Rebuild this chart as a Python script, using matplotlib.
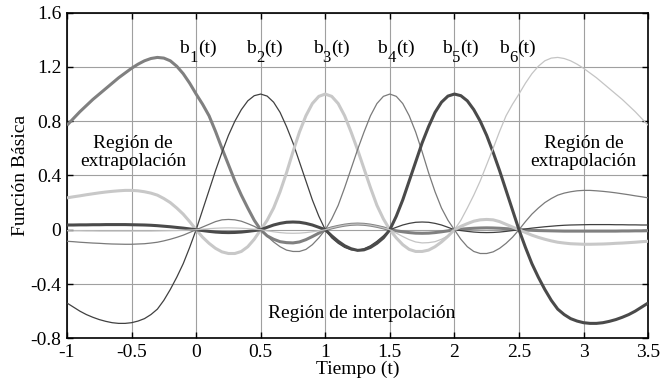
import numpy as np
import matplotlib
matplotlib.use("Agg")
import matplotlib.pyplot as plt

plt.rcParams['font.family'] = ['Liberation Serif', 'DejaVu Serif']
plt.rcParams['axes.unicode_minus'] = False

# tiempo muestreado cada 0.05 entre -1 y 3.5
t = np.linspace(-1.0, 3.5, 91)

b1 = [0.77, 0.82, 0.87, 0.915, 0.96, 1.00, 1.04, 1.08, 1.12, 1.155,
      1.19, 1.22, 1.245, 1.262, 1.27, 1.265, 1.245, 1.205, 1.15, 1.08,
      1.00, 0.925, 0.84, 0.725, 0.60, 0.48, 0.36, 0.255, 0.16, 0.07,
      0.00, -0.045, -0.07, -0.088, -0.095, -0.097, -0.09, -0.073, -0.05, -0.025,
      0.00, 0.014, 0.025, 0.034, 0.04, 0.042, 0.04, 0.034, 0.025, 0.014,
      0.00, -0.008, -0.015, -0.021, -0.025, -0.026, -0.025, -0.021, -0.015, -0.008,
      0.00, 0.004, 0.008, 0.011, 0.013, 0.014, 0.013, 0.011, 0.008, 0.004,
      0.00, -0.002, -0.004, -0.006, -0.007, -0.008, -0.009, -0.01, -0.01, -0.01,
      -0.01, -0.01, -0.01, -0.01, -0.01, -0.01, -0.009, -0.009, -0.008, -0.008,
      -0.007]
b2 = [-0.54, -0.57, -0.60, -0.625, -0.645, -0.662, -0.675, -0.685, -0.69, -0.69,
      -0.685, -0.673, -0.655, -0.625, -0.585, -0.52, -0.44, -0.35, -0.25, -0.13,
      0.00, 0.145, 0.29, 0.435, 0.57, 0.695, 0.80, 0.885, 0.95, 0.988,
      1.00, 0.985, 0.94, 0.865, 0.76, 0.64, 0.50, 0.36, 0.22, 0.10,
      0.00, -0.06, -0.10, -0.13, -0.148, -0.152, -0.14, -0.118, -0.085, -0.045,
      0.00, 0.018, 0.035, 0.047, 0.055, 0.057, 0.055, 0.047, 0.035, 0.018,
      0.00, -0.006, -0.012, -0.017, -0.02, -0.021, -0.02, -0.017, -0.012, -0.006,
      0.00, 0.006, 0.012, 0.017, 0.022, 0.026, 0.03, 0.033, 0.035, 0.036,
      0.037, 0.038, 0.038, 0.038, 0.038, 0.037, 0.037, 0.036, 0.036, 0.035,
      0.035]
b3 = [0.235, 0.243, 0.25, 0.258, 0.265, 0.272, 0.278, 0.283, 0.287, 0.29,
      0.29, 0.287, 0.28, 0.27, 0.255, 0.23, 0.20, 0.16, 0.115, 0.06,
      0.00, -0.055, -0.10, -0.137, -0.163, -0.175, -0.175, -0.16, -0.125, -0.07,
      0.00, 0.07, 0.16, 0.28, 0.42, 0.575, 0.72, 0.84, 0.93, 0.983,
      1.00, 0.983, 0.93, 0.84, 0.72, 0.59, 0.45, 0.31, 0.18, 0.08,
      0.00, -0.06, -0.11, -0.145, -0.16, -0.16, -0.15, -0.125, -0.09, -0.048,
      0.00, 0.025, 0.045, 0.063, 0.073, 0.076, 0.073, 0.06, 0.04, 0.02,
      0.00, -0.02, -0.04, -0.056, -0.07, -0.082, -0.092, -0.098, -0.103, -0.105,
      -0.107, -0.107, -0.106, -0.105, -0.103, -0.10, -0.098, -0.095, -0.092, -0.088,
      -0.085]
b4 = [-0.085, -0.088, -0.092, -0.095, -0.098, -0.10, -0.103, -0.105, -0.106, -0.107,
      -0.107, -0.105, -0.103, -0.098, -0.092, -0.082, -0.07, -0.056, -0.04, -0.02,
      0.00, 0.02, 0.04, 0.06, 0.073, 0.076, 0.073, 0.063, 0.045, 0.025,
      0.00, -0.048, -0.09, -0.125, -0.15, -0.16, -0.16, -0.145, -0.11, -0.06,
      0.00, 0.08, 0.18, 0.31, 0.45, 0.59, 0.72, 0.84, 0.93, 0.983,
      1.00, 0.983, 0.93, 0.84, 0.72, 0.575, 0.42, 0.28, 0.16, 0.07,
      0.00, -0.07, -0.125, -0.16, -0.175, -0.175, -0.163, -0.137, -0.10, -0.055,
      0.00, 0.06, 0.115, 0.16, 0.20, 0.23, 0.255, 0.27, 0.28, 0.287,
      0.29, 0.29, 0.287, 0.283, 0.278, 0.272, 0.265, 0.258, 0.25, 0.243,
      0.235]
b5 = [0.035, 0.035, 0.036, 0.036, 0.037, 0.037, 0.038, 0.038, 0.038, 0.038,
      0.037, 0.036, 0.035, 0.033, 0.03, 0.026, 0.022, 0.017, 0.012, 0.006,
      0.00, -0.006, -0.012, -0.017, -0.02, -0.021, -0.02, -0.017, -0.012, -0.006,
      0.00, 0.018, 0.035, 0.047, 0.055, 0.057, 0.055, 0.047, 0.035, 0.018,
      0.00, -0.045, -0.085, -0.118, -0.14, -0.152, -0.148, -0.13, -0.10, -0.06,
      0.00, 0.10, 0.22, 0.36, 0.50, 0.64, 0.76, 0.865, 0.94, 0.985,
      1.00, 0.988, 0.95, 0.885, 0.80, 0.695, 0.57, 0.435, 0.29, 0.145,
      0.00, -0.13, -0.25, -0.35, -0.44, -0.52, -0.585, -0.625, -0.655, -0.673,
      -0.685, -0.69, -0.69, -0.685, -0.675, -0.662, -0.645, -0.625, -0.60, -0.57,
      -0.54]
b6 = [-0.007, -0.008, -0.008, -0.009, -0.009, -0.01, -0.01, -0.01, -0.01, -0.01,
      -0.01, -0.01, -0.01, -0.01, -0.009, -0.008, -0.007, -0.006, -0.004, -0.002,
      0.00, 0.004, 0.008, 0.011, 0.013, 0.014, 0.013, 0.011, 0.008, 0.004,
      0.00, -0.008, -0.015, -0.021, -0.025, -0.026, -0.025, -0.021, -0.015, -0.008,
      0.00, 0.014, 0.025, 0.034, 0.04, 0.042, 0.04, 0.034, 0.025, 0.014,
      0.00, -0.025, -0.05, -0.073, -0.09, -0.097, -0.095, -0.088, -0.07, -0.045,
      0.00, 0.07, 0.16, 0.255, 0.36, 0.48, 0.60, 0.725, 0.84, 0.925,
      1.00, 1.08, 1.15, 1.205, 1.245, 1.265, 1.27, 1.262, 1.245, 1.22,
      1.19, 1.155, 1.12, 1.08, 1.04, 1.00, 0.96, 0.915, 0.87, 0.82,
      0.77]

nodos = [0.0, 0.5, 1.0, 1.5, 2.0, 2.5]
subindices = ['1', '2', '3', '4', '5', '6']

fig = plt.figure(figsize=(6.6, 3.83), dpi=100)
ax = fig.add_axes([0.1015, 0.1167, 0.8805, 0.8503])

estilos = [('#808080', 2.2), ('#404040', 0.9), ('#c8c8c8', 2.2),
           ('#7a7a7a', 0.9), ('#4a4a4a', 2.2), ('#c4c4c4', 0.9)]
for b, (c, lw) in zip([b1, b2, b3, b4, b5, b6], estilos):
    ax.plot(t, b, color=c, linewidth=lw, solid_joinstyle='round',
            solid_capstyle='butt', zorder=3)

ax.set_xlim(-1, 3.5)
ax.set_ylim(-0.8, 1.6)
ax.set_xticks(np.arange(-1, 3.51, 0.5))
ax.set_xticklabels(['-1', '-0.5', '0', '0.5', '1', '1.5', '2', '2.5', '3', '3.5'])
ax.set_yticks(np.arange(-0.8, 1.61, 0.4))
ax.set_yticklabels(['-0.8', '-0.4', '0', '0.4', '0.8', '1.2', '1.6'])
ax.grid(True, color='#a0a0a0', linewidth=0.8)
ax.set_axisbelow(True)
ax.tick_params(direction='in', length=4, width=1, top=True, right=True,
               labelsize=14, pad=4)
for s in ax.spines.values():
    s.set_linewidth(1.2)

ax.set_xlabel('Tiempo (t)', fontsize=14, labelpad=0)
ax.set_ylabel('Función Básica', fontsize=14, labelpad=1)

# etiquetas b_i(t) con subindice casi del mismo tamano
desp = [0.016, 0.031, 0.047, 0.05, 0.05, -0.008]
for n, d, s in zip(nodos, desp, subindices):
    x = n + d
    ax.annotate('b', (x, 1.30), xytext=(-13.5, 0), textcoords='offset points',
                fontsize=14, ha='left', va='baseline')
    ax.annotate(s, (x, 1.30), xytext=(-6.3, -6), textcoords='offset points',
                fontsize=12, ha='left', va='baseline')
    ax.annotate('(t)', (x, 1.30), xytext=(-0.3, 0), textcoords='offset points',
                fontsize=14, ha='left', va='baseline')

ax.text(-0.49, 0.57, 'Región de\nextrapolación', fontsize=14, ha='center',
        va='center', linespacing=1.05)
ax.text(3.0, 0.57, 'Región de\nextrapolación', fontsize=14, ha='center',
        va='center', linespacing=1.05)
ax.text(1.28, -0.62, 'Región de interpolación', fontsize=14, ha='center',
        va='center')

fig.savefig('out.png', dpi=100)
